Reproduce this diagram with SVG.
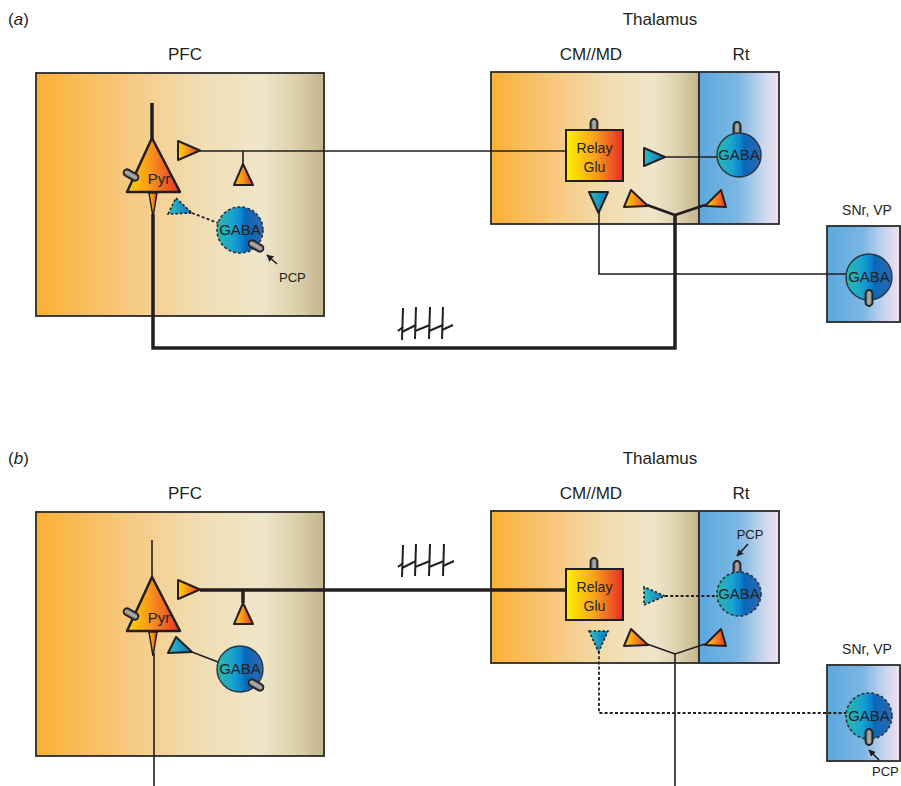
<svg xmlns="http://www.w3.org/2000/svg" width="901" height="786" viewBox="0 0 901 786">
<defs>
<linearGradient id="gBeige" x1="0" y1="0" x2="1" y2="0">
<stop offset="0" stop-color="#fbb034"/>
<stop offset="0.3" stop-color="#f7c77c"/>
<stop offset="0.55" stop-color="#f1dcb0"/>
<stop offset="0.78" stop-color="#efe6cb"/>
<stop offset="0.9" stop-color="#ddd1ad"/>
<stop offset="1" stop-color="#c4b68b"/>
</linearGradient>
<linearGradient id="gBlue" x1="0" y1="0" x2="1" y2="0">
<stop offset="0" stop-color="#5ba8de"/>
<stop offset="0.5" stop-color="#7db7e2"/>
<stop offset="0.8" stop-color="#c9d6ee"/>
<stop offset="1" stop-color="#f3dff0"/>
</linearGradient>
<linearGradient id="gGaba" x1="0" y1="0" x2="1" y2="0">
<stop offset="0" stop-color="#2cb9ab"/>
<stop offset="0.35" stop-color="#18a3d0"/>
<stop offset="0.55" stop-color="#0b80cc"/>
<stop offset="0.62" stop-color="#0a68b8"/>
<stop offset="1" stop-color="#2c68b0"/>
</linearGradient>
<linearGradient id="gOr" x1="0" y1="0" x2="1" y2="0">
<stop offset="0" stop-color="#ffd400"/>
<stop offset="0.45" stop-color="#f7941d"/>
<stop offset="1" stop-color="#e8322a"/>
</linearGradient>
<linearGradient id="gRelay" x1="0" y1="0" x2="1" y2="0">
<stop offset="0" stop-color="#fff200"/>
<stop offset="0.5" stop-color="#f8a21c"/>
<stop offset="1" stop-color="#ea2c26"/>
</linearGradient>
<linearGradient id="gCy" x1="0" y1="0" x2="1" y2="0">
<stop offset="0" stop-color="#2ec0c4"/>
<stop offset="1" stop-color="#0b72bd"/>
</linearGradient>
<linearGradient id="gRec" x1="0" y1="0" x2="1" y2="0">
<stop offset="0" stop-color="#5a5a5a"/>
<stop offset="0.5" stop-color="#b4b4b4"/>
<stop offset="1" stop-color="#666666"/>
</linearGradient>
<marker id="ah" viewBox="0 0 10 10" refX="9" refY="5" markerWidth="7" markerHeight="7" orient="auto" markerUnits="userSpaceOnUse">
<path d="M0,0 L10,5 L0,10 z" fill="#231f20"/>
</marker>
<g id="rec"><rect x="-3.5" y="-8" width="7" height="16" rx="3.5" fill="url(#gRec)" stroke="#222222" stroke-width="1.8"/></g>
</defs>
<style>
text{font-family:"Liberation Sans",Arial,sans-serif;fill:#231f20}
.hd{font-size:17px}
.lb{font-size:15px;text-anchor:middle}
.sm{font-size:13px}
.box{stroke:#2b2b2b;stroke-width:1.8}
.ln{fill:none;stroke:#231f20;stroke-width:1.6}
.thk{fill:none;stroke:#231f20;stroke-width:3.5}
.mid{fill:none;stroke:#231f20;stroke-width:2.6}
.ds{fill:none;stroke:#231f20;stroke-width:1.8;stroke-dasharray:3 2.2}
.tri{fill:url(#gOr);stroke:#231f20;stroke-width:2;stroke-linejoin:round}
.btri{fill:url(#gCy);stroke:#231f20;stroke-width:2;stroke-linejoin:round}
.btrid{fill:url(#gCy);stroke:#231f20;stroke-width:1.6;stroke-dasharray:2.5 2}
.gaba{fill:url(#gGaba);stroke:#2b3440;stroke-width:1.4}
.gabad{fill:url(#gGaba);stroke:#2b3440;stroke-width:1.6;stroke-dasharray:3 2}
.pyr{fill:url(#gOr);stroke:#231f20;stroke-width:2.5;stroke-linejoin:round}
</style>
<rect width="901" height="786" fill="#ffffff"/>

<!-- ===== Panel (a) ===== -->
<g id="a-labels">
<text class="hd" x="8" y="25">(<tspan font-style="italic">a</tspan>)</text>
<text class="hd" x="185" y="60" text-anchor="middle">PFC</text>
<text class="hd" x="660" y="25" text-anchor="middle">Thalamus</text>
<text class="hd" x="591" y="60" text-anchor="middle">CM//MD</text>
<text class="hd" x="741" y="60" text-anchor="middle">Rt</text>
<text x="867" y="215" text-anchor="middle" font-size="14">SNr, VP</text>
</g>
<g id="a-pfc"><rect class="box" x="36" y="73" width="288" height="243" fill="url(#gBeige)"/></g>
<g id="a-cmmd"><rect class="box" x="491" y="72" width="208" height="152" fill="url(#gBeige)"/></g>
<g id="a-rt"><rect class="box" x="699" y="72" width="80" height="152" fill="url(#gBlue)"/></g>
<g id="a-snr"><rect class="box" x="827" y="226" width="73" height="96" fill="url(#gBlue)"/></g>

<g id="a-connectors">
<path class="thk" d="M152,103 V140"/>
<path class="thk" d="M153,214 V348 H675 V215"/>
<path class="ln" d="M200,151 H566 M243,151 V164"/>
<path class="ds" d="M192,213 L218,223"/>
<path class="ln" d="M665,157 H717"/>
<path class="ln" d="M599,212 V274 H846"/>
<path class="mid" d="M647,205 L675,215 L705,205"/>
<path class="ln" d="M277,264 L267,255" marker-end="url(#ah)"/>
<g id="a-hash" fill="none" stroke="#231f20" stroke-width="2">
<path d="M403,308 L402,340 M416,307 L415,339 M430,307 L429,339 M443,307 L442,339"/>
<path d="M398,331 L403,327 M402,332 L416,325 M415,331 L430,325 M429,331 L443,325 M442,330 L453,325"/>
</g>
</g>

<g id="a-pyr">
<path class="pyr" d="M152,138 L180,192 L127,192 Z"/>
<path d="M149,193 L157,193 L153,217 Z" fill="url(#gOr)" stroke="#231f20" stroke-width="1.5"/>
<use href="#rec" transform="translate(131,175) rotate(-60)"/>
<text class="lb" x="159" y="184">Pyr</text>
</g>
<g id="a-term1"><path class="tri" d="M178,141 L178,160 L200,150.5 Z"/></g>
<g id="a-term2"><path class="tri" d="M243,164 L253,185 L234,185 Z"/></g>
<g id="a-term3"><path class="btrid" d="M168,214 L176,198 L192,213 Z"/></g>
<g id="a-gaba-pfc">
<circle class="gabad" cx="240" cy="230" r="23"/>
<text class="lb" x="240" y="235">GABA</text>
<use href="#rec" transform="translate(256,246) rotate(-60)"/>
<text class="sm" x="279" y="282">PCP</text>
</g>
<g id="a-relay">
<use href="#rec" transform="translate(594,127)"/>
<rect x="566" y="130" width="57" height="51" fill="url(#gRelay)" stroke="#231f20" stroke-width="2"/>
<text x="594.5" y="153" font-size="14" text-anchor="middle">Relay</text>
<text x="594.5" y="172" font-size="14" text-anchor="middle">Glu</text>
</g>
<g id="a-term4"><path class="btri" d="M644,148 L644,166 L665,157 Z"/></g>
<g id="a-term5"><path class="btri" d="M589,192 L608,192 L598.5,213 Z"/></g>
<g id="a-term6"><path class="tri" d="M624,207 L631,190 L648,206 Z"/></g>
<g id="a-term7"><path class="tri" d="M705,206 L721,190 L726,207 Z"/></g>
<g id="a-gaba-rt">
<use href="#rec" transform="translate(737,130)"/>
<circle class="gaba" cx="739" cy="155" r="22"/>
<text class="lb" x="739" y="160">GABA</text>
</g>
<g id="a-gaba-snr">
<circle class="gaba" cx="869" cy="277" r="23"/>
<text class="lb" x="869" y="282">GABA</text>
<use href="#rec" transform="translate(869,298)"/>
</g>

<!-- ===== Panel (b) ===== -->
<g id="b-labels">
<text class="hd" x="8" y="464">(<tspan font-style="italic">b</tspan>)</text>
<text class="hd" x="185" y="499" text-anchor="middle">PFC</text>
<text class="hd" x="660" y="464" text-anchor="middle">Thalamus</text>
<text class="hd" x="591" y="499" text-anchor="middle">CM//MD</text>
<text class="hd" x="741" y="499" text-anchor="middle">Rt</text>
<text x="867" y="654" text-anchor="middle" font-size="14">SNr, VP</text>
</g>
<g id="b-pfc"><rect class="box" x="36" y="512" width="288" height="244" fill="url(#gBeige)"/></g>
<g id="b-cmmd"><rect class="box" x="491" y="511" width="208" height="152" fill="url(#gBeige)"/></g>
<g id="b-rt"><rect class="box" x="699" y="511" width="80" height="152" fill="url(#gBlue)"/></g>
<g id="b-snr"><rect class="box" x="827" y="665" width="73" height="96" fill="url(#gBlue)"/></g>

<g id="b-connectors">
<path class="ln" stroke-width="2" d="M152,540 V579"/>
<path class="ln" stroke-width="2" d="M154,653 V786"/>
<path class="thk" d="M200,590 H566 M243,590 V603"/>
<path class="ln" d="M192,652 L218,662"/>
<path class="ds" d="M665,596 H717"/>
<path class="ds" d="M599,651 V713 H846"/>
<path class="ln" stroke-width="2" d="M647,644 L675,654 L705,644 M675,654 V786"/>
<path class="ln" d="M748,544 L737,556" marker-end="url(#ah)"/>
<path class="ln" d="M879,760 L869,750" marker-end="url(#ah)"/>
<g id="b-hash" fill="none" stroke="#231f20" stroke-width="2">
<path d="M403,545 L402,577 M416,544 L415,576 M430,544 L429,576 M444,544 L443,576"/>
<path d="M398,567 L403,563 M402,568 L416,561 M415,567 L430,561 M429,567 L444,561 M443,566 L454,561"/>
</g>
</g>

<g id="b-pyr">
<path class="pyr" d="M152,577 L180,631 L127,631 Z"/>
<path d="M149,632 L157,632 L153,656 Z" fill="url(#gOr)" stroke="#231f20" stroke-width="1.5"/>
<use href="#rec" transform="translate(131,614) rotate(-60)"/>
<text class="lb" x="159" y="623">Pyr</text>
</g>
<g id="b-term1"><path class="tri" d="M178,580 L178,599 L200,589.5 Z"/></g>
<g id="b-term2"><path class="tri" d="M243,603 L253,624 L234,624 Z"/></g>
<g id="b-term3"><path class="btri" d="M168,653 L176,637 L192,652 Z"/></g>
<g id="b-gaba-pfc">
<circle class="gaba" cx="240" cy="669" r="23"/>
<text class="lb" x="240" y="674">GABA</text>
<use href="#rec" transform="translate(256,685) rotate(-60)"/>
</g>
<g id="b-relay">
<use href="#rec" transform="translate(594,566)"/>
<rect x="566" y="569" width="57" height="51" fill="url(#gRelay)" stroke="#231f20" stroke-width="2"/>
<text x="594.5" y="592" font-size="14" text-anchor="middle">Relay</text>
<text x="594.5" y="611" font-size="14" text-anchor="middle">Glu</text>
</g>
<g id="b-term4"><path class="btrid" d="M644,587 L644,605 L665,596 Z"/></g>
<g id="b-term5"><path class="btrid" d="M589,631 L608,631 L598.5,652 Z"/></g>
<g id="b-term6"><path class="tri" d="M624,646 L631,629 L648,645 Z"/></g>
<g id="b-term7"><path class="tri" d="M705,645 L721,629 L726,646 Z"/></g>
<g id="b-gaba-rt">
<use href="#rec" transform="translate(737,569)"/>
<circle class="gabad" cx="739" cy="594" r="22"/>
<text class="lb" x="739" y="599">GABA</text>
<text class="sm" x="750" y="539" text-anchor="middle">PCP</text>
</g>
<g id="b-gaba-snr">
<circle class="gabad" cx="869" cy="716" r="23"/>
<text class="lb" x="869" y="721">GABA</text>
<use href="#rec" transform="translate(869,737)"/>
<text class="sm" x="872" y="776">PCP</text>
</g>
</svg>
